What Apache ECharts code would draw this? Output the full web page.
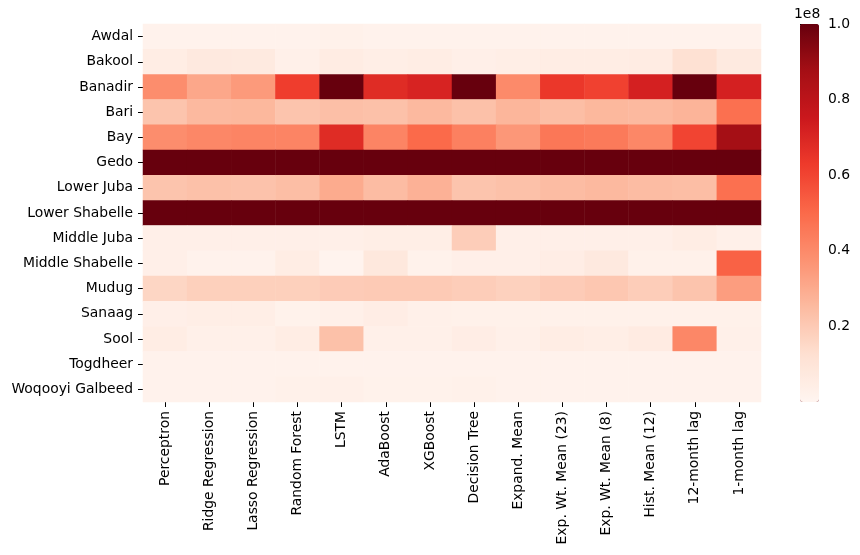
<!DOCTYPE html>
<html><head><meta charset="utf-8">
<script src="https://cdn.jsdelivr.net/npm/echarts@6/dist/echarts.min.js"></script>
<style>html,body{margin:0;padding:0;background:#fff}#c{width:860px;height:555px}</style>
</head><body><div id="c"></div>
<script>
const regions = ["Awdal","Bakool","Banadir","Bari","Bay","Gedo","Lower Juba","Lower Shabelle","Middle Juba","Middle Shabelle","Mudug","Sanaag","Sool","Togdheer","Woqooyi Galbeed"];
const models = ["Perceptron","Ridge Regression","Lasso Regression","Random Forest","LSTM","AdaBoost","XGBoost","Decision Tree","Expand. Mean","Exp. Wt. Mean (23)","Exp. Wt. Mean (8)","Hist. Mean (12)","12-month lag","1-month lag"];
// values per region, one per model
const awdal     = [1.5e6,1.5e6,1.5e6,1.5e6,2.5e6,1.5e6,1.5e6,1.5e6,1.5e6,1.5e6,1.5e6,1.5e6,1.5e6,1.5e6];
const bakool    = [5e6,7e6,6.5e6,3e6,5.5e6,4e6,5e6,3.5e6,4e6,5e6,5e6,5.5e6,12e6,6.5e6];
const banadir   = [39e6,31e6,35e6,62e6,160e6,68e6,71e6,150e6,40e6,64e6,61e6,72e6,140e6,72e6];
const bari      = [22e6,25.5e6,26e6,22e6,23.5e6,23e6,25.5e6,23e6,26.5e6,24e6,26e6,25.5e6,27e6,48e6];
const bay       = [39e6,41e6,42e6,42e6,68e6,42e6,50e6,43e6,36e6,46e6,45e6,41e6,60e6,87.5e6];
const gedo      = [250e6,250e6,250e6,250e6,250e6,250e6,250e6,250e6,250e6,250e6,250e6,250e6,250e6,250e6];
const lowerJuba = [22e6,23e6,22.5e6,24e6,30e6,24.5e6,28e6,22e6,23e6,24.5e6,25.5e6,24.5e6,24e6,48e6];
const lowerShab = [300e6,300e6,300e6,300e6,300e6,300e6,300e6,300e6,300e6,300e6,300e6,300e6,300e6,300e6];
const middleJuba= [3.5e6,3.5e6,3.5e6,3.5e6,3.5e6,4e6,4e6,19e6,3.5e6,3.5e6,3.5e6,3.5e6,5e6,3e6];
const middleShab= [3.5e6,1.5e6,1.5e6,5e6,1e6,8e6,2e6,3.5e6,3.5e6,4.5e6,7e6,2.5e6,2.5e6,52e6];
const mudug     = [16e6,18e6,18e6,18e6,19.5e6,20e6,20e6,19e6,17.5e6,19.5e6,21e6,19e6,22e6,34e6];
const sanaag    = [3.5e6,4e6,4e6,2e6,3e6,4.5e6,3e6,2.5e6,2.5e6,2.5e6,2.5e6,2.5e6,2.5e6,2.5e6];
const sool      = [5e6,3e6,3e6,5e6,23e6,3e6,3e6,4.5e6,3e6,5e6,4e6,6e6,41e6,3e6];
const togdheer  = [1.8e6,1.8e6,1.8e6,1.8e6,1.8e6,1.8e6,1.8e6,1.8e6,1.8e6,1.8e6,1.8e6,1.8e6,1.8e6,1.8e6];
const woqooyi   = [1.5e6,1.5e6,1.5e6,2.5e6,3e6,2e6,2e6,2.5e6,1.5e6,1.5e6,1.5e6,1.5e6,1.5e6,1.5e6];
const rows = [awdal,bakool,banadir,bari,bay,gedo,lowerJuba,lowerShab,middleJuba,middleShab,mudug,sanaag,sool,togdheer,woqooyi];
const cbTicks = [0.2,0.4,0.6,0.8,1.0];

const data = [];
rows.forEach((r,yi)=>r.forEach((v,xi)=>data.push([xi,yi,v])));

const font = 'DejaVu Sans';
const fs = 13.9;
const chart = echarts.init(document.getElementById('c'));
chart.setOption({
  animation:false,
  textStyle:{fontFamily:font},
  grid:[
    {left:143,right:99,top:24,bottom:153},
    {left:800,width:19,top:24,height:378}
  ],
  xAxis:[
    {type:'category',data:models,gridIndex:0,
     axisLine:{show:false},
     axisTick:{show:true,alignWithLabel:true,length:5,lineStyle:{color:'#000',width:1}},
     axisLabel:{rotate:90,color:'#000',fontSize:fs,fontFamily:font,margin:9,interval:0},
     splitLine:{show:false}},
    {type:'value',gridIndex:1,show:false,min:0,max:1}
  ],
  yAxis:[
    {type:'category',data:regions,inverse:true,gridIndex:0,
     axisLine:{show:false},
     axisTick:{show:true,alignWithLabel:true,length:5,lineStyle:{color:'#000',width:1}},
     axisLabel:{color:'#000',fontSize:fs,fontFamily:font,margin:10,interval:0},
     splitLine:{show:false}},
    {type:'value',gridIndex:1,position:'right',min:0,max:1,
     axisLine:{show:false},
     axisTick:{show:true,length:5,customValues:cbTicks,lineStyle:{color:'#000',width:1}},
     axisLabel:{color:'#000',fontSize:fs,fontFamily:font,margin:9,customValues:cbTicks,
       formatter:v=>Number(v).toFixed(1)},
     splitLine:{show:false}}
  ],
  graphic:[{type:'text',left:794,top:7,style:{text:'1e8',fill:'#000',font:fs+'px "DejaVu Sans"'}}],
  visualMap:{
    type:'continuous',min:0,max:1e8,
    left:800,top:24,itemWidth:19,itemHeight:378,
    orient:'vertical',calculable:false,text:null,showLabel:false,
    hoverLink:false,
    inRange:{color:['#fff5f0','#fee0d2','#fcbba1','#fc9272','#fb6a4a','#ef3b2c','#cb181d','#a50f15','#67000d']},
    outOfRange:{color:['#67000d']},
    seriesIndex:0,
    padding:0
  },
  series:[{
    type:'heatmap',xAxisIndex:0,yAxisIndex:0,data:data,
    itemStyle:{borderWidth:0},
    emphasis:{disabled:true},
    progressive:0
  }]
});
</script></body></html>
